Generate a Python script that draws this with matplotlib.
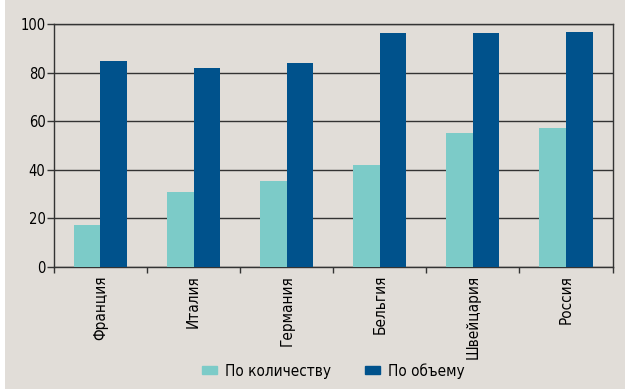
import matplotlib.pyplot as plt
import numpy as np
from matplotlib.patches import Rectangle, Patch

countries = ["Франция", "Италия", "Германия", "Бельгия", "Швейцария", "Россия"]
by_count = [17, 30.8, 35.4, 42, 55.2, 57.2]
by_volume = [84.9, 82, 84, 96.4, 96.4, 96.8]
series_names = ["По количеству", "По объему"]
y_ticks = [0, 20, 40, 60, 80, 100]

bg = "#e1ddd8"
light = "#7ccbc8"
dark = "#00528c"
line = "#333333"

plt.rcParams["font.family"] = ["DejaVu Sans"]
plt.rcParams["font.stretch"] = "condensed"

fig = plt.figure(figsize=(6.25, 3.9), dpi=100, facecolor="white")
fig.patches.append(Rectangle((5 / 625, 1 / 390), 1, 1, transform=fig.transFigure,
                             facecolor=bg, edgecolor="none", zorder=-1))

ax = fig.add_axes([53.8 / 625, 1 - 266.7 / 390, (612.6 - 53.8) / 625, (266.7 - 24.3) / 390])
ax.set_facecolor(bg)

x = np.arange(len(countries))
w = 0.285
ax.bar(x - w / 2, by_count, w, color=light, zorder=3)
ax.bar(x + w / 2, by_volume, w, color=dark, zorder=3)

ax.set_xlim(-0.5, len(countries) - 0.5)
ax.set_ylim(0, 100)
ax.set_yticks(y_ticks)
ax.yaxis.grid(True, color=line, linewidth=1.0)
ax.set_axisbelow(True)

for s in ax.spines.values():
    s.set_color(line)
    s.set_linewidth(1.0)

# category names under the groups, small ticks on the group borders
ax.set_xticks(x)
ax.set_xticklabels(countries, rotation=90, fontsize=11)
ax.set_xticks(np.arange(len(countries) + 1) - 0.5, minor=True)
ax.tick_params(axis="x", which="major", length=0, pad=6)
ax.tick_params(axis="x", which="minor", length=4, color=line, width=1)
ax.tick_params(axis="y", length=5, color=line, width=1, pad=1, labelsize=10.5)

handles = [Patch(color=light), Patch(color=dark)]
fig.legend(handles, series_names, loc="center", bbox_to_anchor=(0.533, 0.049),
           ncol=2, frameon=False, fontsize=11, handlelength=1.0, handleheight=0.45,
           handletextpad=0.5, columnspacing=2.2)

fig.savefig("out.png", dpi=100, facecolor=fig.get_facecolor())
